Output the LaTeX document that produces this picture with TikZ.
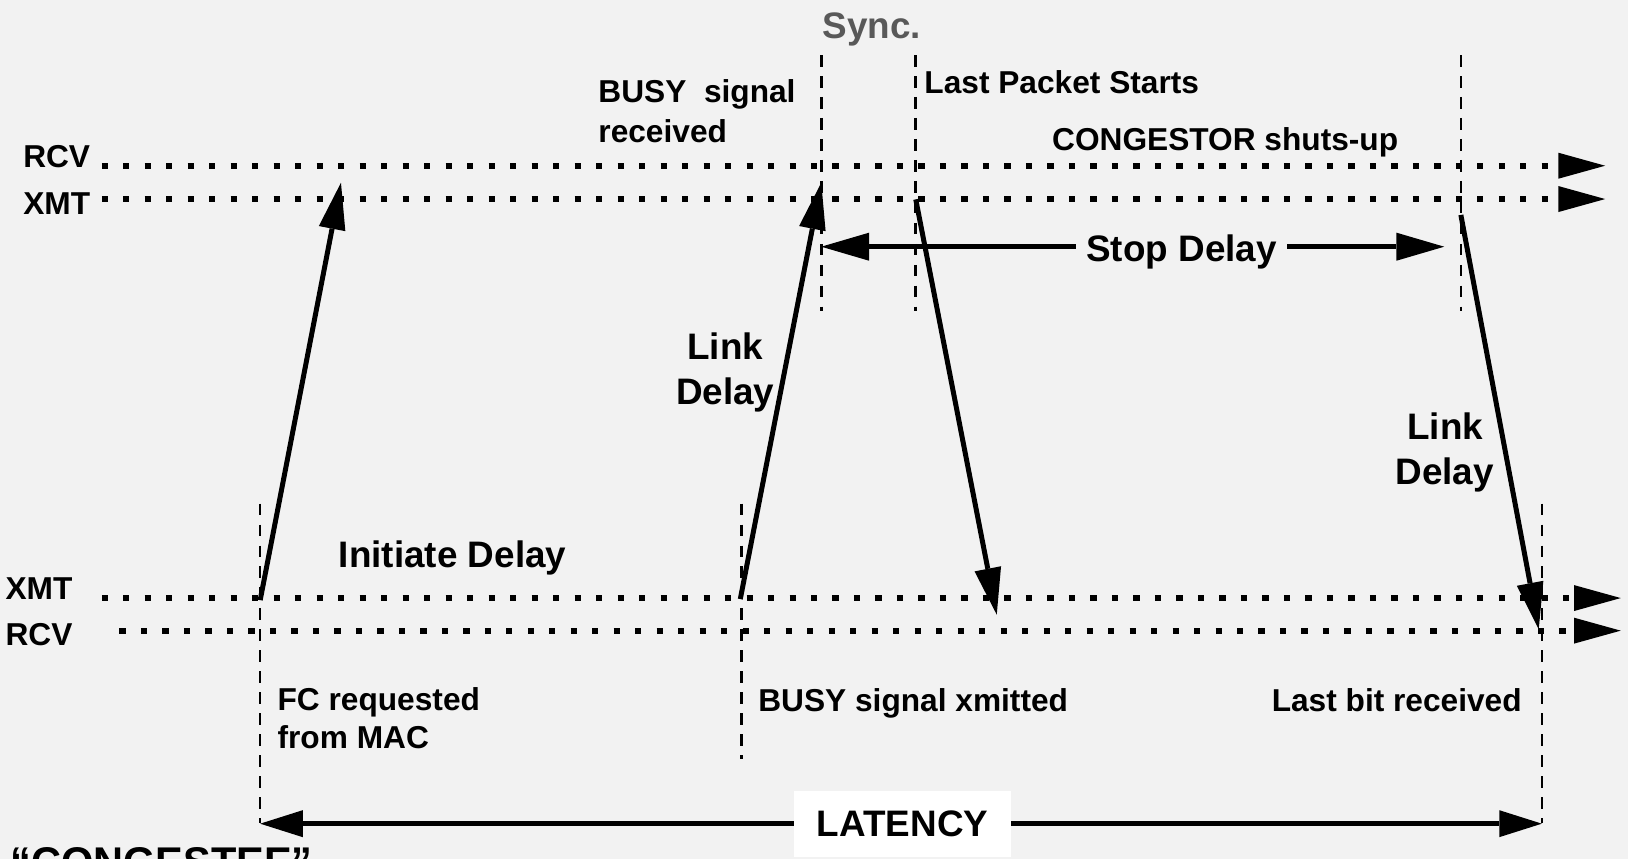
\documentclass[tikz,border=0pt]{standalone}
\usepackage{fontspec}
\setmainfont{Liberation Sans}
\usetikzlibrary{arrows.meta}
\definecolor{bg}{HTML}{F2F2F2}
\definecolor{syncgray}{HTML}{595959}
\begin{document}
\begin{tikzpicture}[x={(0.5pt,0)}, y={(0,-0.5pt)},
  lbl/.style={font=\fontsize{15.25}{18}\selectfont\bfseries, inner sep=0pt, anchor=base west},
  biglbl/.style={font=\fontsize{17.75}{21}\selectfont\bfseries, inner sep=0pt},
  timeline/.style={line width=3pt, dash pattern=on 3pt off 7.35pt, -{Triangle[length=22.5pt,width=12.5pt,line width=0pt]}},
  guide/.style={line width=1.25pt, dash pattern=on 5.6pt off 4.5pt},
  signal/.style={line width=2.4pt, -{Triangle[length=22.5pt,width=13pt,line width=0pt]}},
  spanarrow/.style={line width=2.4pt, {Triangle[length=23pt,width=13.5pt,line width=0pt]}-{Triangle[length=23pt,width=13.5pt,line width=0pt]}},
  latarrow/.style={line width=2.4pt, -{Triangle[length=20.5pt,width=13pt,line width=0pt]}},
]
\useasboundingbox (0,0) rectangle (1568,827);
\fill[bg] (0,0) rectangle (1568,827);
\clip (0,0) rectangle (1568,827);

% time lines
\coordinate (tR0) at (98,159.6);  \coordinate (tR1) at (1546,159.6);
\coordinate (tX0) at (98,191.7);  \coordinate (tX1) at (1546,191.7);
\coordinate (bX0) at (98,576);    \coordinate (bX1) at (1561,576);
\coordinate (bR0) at (115,607.4); \coordinate (bR1) at (1561,607.4);
\draw[timeline] (tR0) -- (tR1);
\draw[timeline] (tX0) -- (tX1);
\draw[timeline] (bX0) -- (bX1);
\draw[timeline] (bR0) -- (bR1);

% dashed guides
\coordinate (g1a) at (791,53);    \coordinate (g1b) at (791,300);
\coordinate (g2a) at (882,53);    \coordinate (g2b) at (882,300);
\coordinate (g3a) at (1407,53);   \coordinate (g3b) at (1407,300);
\coordinate (g4a) at (250.6,485); \coordinate (g4b) at (250.6,793);
\coordinate (g5a) at (714,485);   \coordinate (g5b) at (714,731);
\coordinate (g6a) at (1485,485);  \coordinate (g6b) at (1485,793);
\draw[guide] (g1a) -- (g1b);
\draw[guide] (g2a) -- (g2b);
\draw[guide] (g3a) -- (g3b);
\draw[guide] (g4a) -- (g4b);
\draw[guide] (g5a) -- (g5b);
\draw[guide] (g6a) -- (g6b);

% signal arrows
\coordinate (s1a) at (250.6,578); \coordinate (s1b) at (328.4,176);
\coordinate (s2a) at (713,577);   \coordinate (s2b) at (791,176);
\coordinate (s3a) at (882,192);   \coordinate (s3b) at (960,592);
\coordinate (s4a) at (1407,207);  \coordinate (s4b) at (1482,606);
\draw[signal] (s1a) -- (s1b);
\draw[signal] (s2a) -- (s2b);
\draw[signal] (s3a) -- (s3b);
\draw[signal] (s4a) -- (s4b);

% stop delay
\coordinate (sdL) at (791,237.6); \coordinate (sdR) at (1391,237.6);
\draw[spanarrow] (sdL) -- (sdR);
\node[biglbl, fill=bg, inner sep=5pt, anchor=base] (sd) at (1138,252) {Stop Delay};

% latency
\node[biglbl, fill=white, minimum width=104.3pt, minimum height=31.7pt] (lat) at (869.3,793.3) {LATENCY};
\coordinate (latL) at (250.6,793.3); \coordinate (latR) at (1485,793.3);
\draw[latarrow] (lat.west) -- (latL);
\draw[latarrow] (lat.east) -- (latR);

% labels
\node[lbl] (rcvT) at (22,161) {RCV};
\node[lbl] (xmtT) at (22,207) {XMT};
\node[lbl] (busyR1) at (576,99) {BUSY\ \ signal};
\node[lbl] (busyR2) at (576,137) {received};
\node[biglbl, anchor=base west, text=syncgray] (sync) at (792,37) {Sync.};
\node[lbl] (lps) at (890,90) {Last Packet Starts};
\node[lbl] (cong) at (1013,144.5) {CONGESTOR shuts-up};
\node[biglbl, anchor=base] (ld1a) at (698.5,346) {Link};
\node[biglbl, anchor=base] (ld1b) at (698.5,390) {Delay};
\node[biglbl, anchor=base] (ld2a) at (1392,423) {Link};
\node[biglbl, anchor=base] (ld2b) at (1391.5,467) {Delay};
\node[biglbl, anchor=base west] (init) at (326,547) {Initiate Delay};
\node[lbl] (xmtB) at (5,577) {XMT};
\node[lbl] (rcvB) at (5,622) {RCV};
\node[lbl] (fc1) at (267,684.6) {FC requested};
\node[lbl] (fc2) at (267,721) {from MAC};
\node[lbl] (busyX) at (730,685) {BUSY signal xmitted};
\node[lbl, anchor=base east] (lbr) at (1466,685) {Last bit received};
\node[font=\fontsize{20}{24}\selectfont\bfseries, inner sep=0pt, anchor=base west] (cgee) at (9.6,844) {“CONGESTEE”};
\end{tikzpicture}
\end{document}
